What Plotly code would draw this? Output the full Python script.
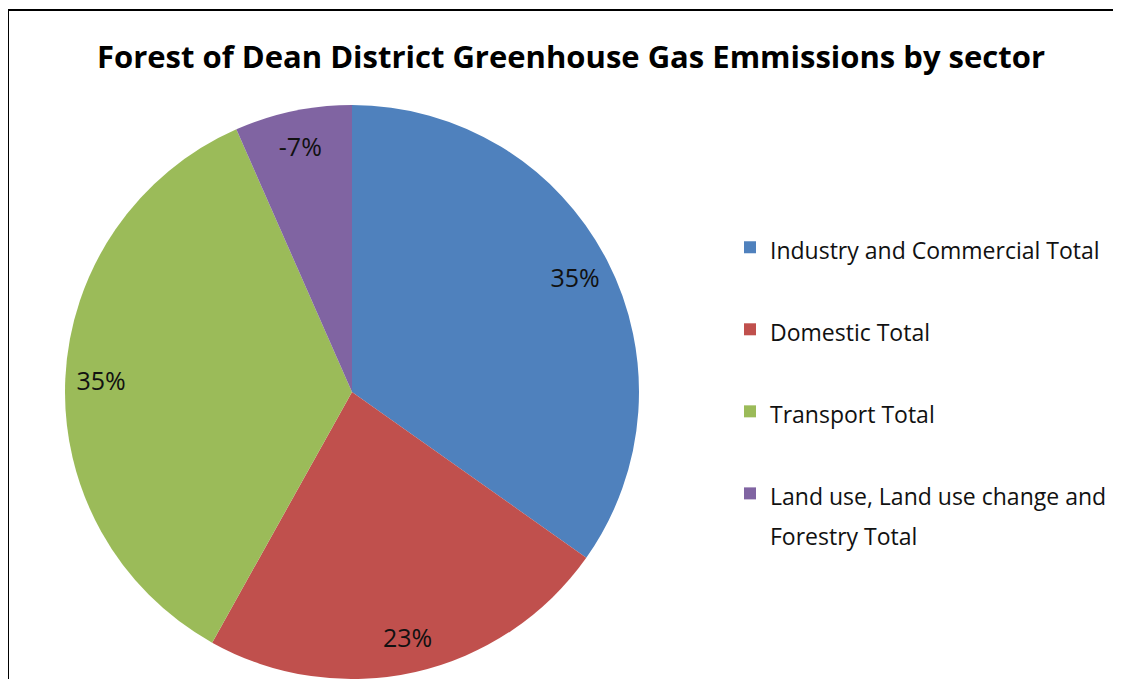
import plotly.graph_objects as go

# ---- data ----
categories = [
    "Industry and Commercial Total",
    "Domestic Total",
    "Transport Total",
    "Land use, Land use change and Forestry Total",
]
# legend text split the way the reference wraps it
legend_lines = [
    ["Industry and Commercial Total"],
    ["Domestic Total"],
    ["Transport Total"],
    ["Land use, Land use change and", "Forestry Total"],
]
shares = [34.8, 23.3, 35.3, -6.6]  # % of total (absolute), LULUCF is a sink
colors = ["#4F81BD", "#C0504D", "#9BBB59", "#8064A2"]
title_text = "Forest of Dean District Greenhouse Gas Emmissions by sector"

# the page body adds an 8px margin, so the figure is 8px smaller each way
OFF = 8
W, H = 1121 - OFF, 679 - OFF
FONT = "Open Sans"
LEGEND_TEXT_PX = 23
LEGEND_BASE_PX = 30.4  # sets the legend's line pitch (1.3 x size)


def legend_label(lines):
    body = "<br>".join(
        f"<span style='font-size:{LEGEND_TEXT_PX}px'>{l}</span>" for l in lines
    )
    if len(lines) == 1:
        return body + "<br>&nbsp;"
    return body


total_abs = sum(abs(v) for v in shares)
slice_sizes = [abs(v) for v in shares]
pct_text = [f"{round(v / total_abs * 100)}%" for v in shares]
labels = [legend_label(l) for l in legend_lines]

cx, cy, r = 352 - OFF, 392 - OFF, 287
domain = dict(
    x=[(cx - r) / W, (cx + r) / W],
    y=[max(0.0, 1 - (cy + r) / H), 1 - (cy - r) / H],
)

fig = go.Figure()
fig.add_trace(
    go.Pie(
        labels=labels,
        values=slice_sizes,
        sort=False,
        direction="clockwise",
        rotation=0,
        marker=dict(colors=colors, line=dict(width=0)),
        textinfo="none",
        domain=domain,
        hovertext=categories,
        hoverinfo="text+percent",
    )
)
# transparent ring carrying the percentage labels near the rim
fig.add_trace(
    go.Pie(
        labels=labels,
        values=slice_sizes,
        sort=False,
        direction="clockwise",
        rotation=0,
        hole=0.75,
        marker=dict(colors=["rgba(0,0,0,0)"] * len(shares), line=dict(width=0)),
        text=pct_text,
        textinfo="text",
        textposition="inside",
        insidetextorientation="horizontal",
        textfont=dict(family=FONT, size=25, color="#111111"),
        domain=domain,
        showlegend=False,
        hoverinfo="skip",
    )
)

fig.update_layout(
    width=W,
    height=H,
    autosize=False,
    margin=dict(l=0, r=0, t=0, b=0, autoexpand=False),
    paper_bgcolor="white",
    plot_bgcolor="white",
    title=dict(
        text=f"<b>{title_text}</b>",
        font=dict(family=FONT, size=31, color="black"),
        x=(571 - OFF) / W,
        xanchor="center",
        xref="paper",
        y=1 - (57 - OFF) / H,
        yanchor="middle",
        yref="container",
    ),
    legend=dict(
        x=(730 - OFF) / W,
        xanchor="left",
        y=1 - (390.5 - OFF) / H,
        yanchor="middle",
        font=dict(family=FONT, size=LEGEND_BASE_PX, color="#111111"),
        valign="top",
        bgcolor="rgba(0,0,0,0)",
        borderwidth=0,
    ),
    shapes=[
        dict(
            type="rect",
            xref="paper",
            yref="paper",
            x0=0,
            x1=1.2,
            y0=-0.2,
            y1=1 - (10 - OFF) / H,
            line=dict(color="black", width=2),
        )
    ],
)

fig.write_html("out.html")
